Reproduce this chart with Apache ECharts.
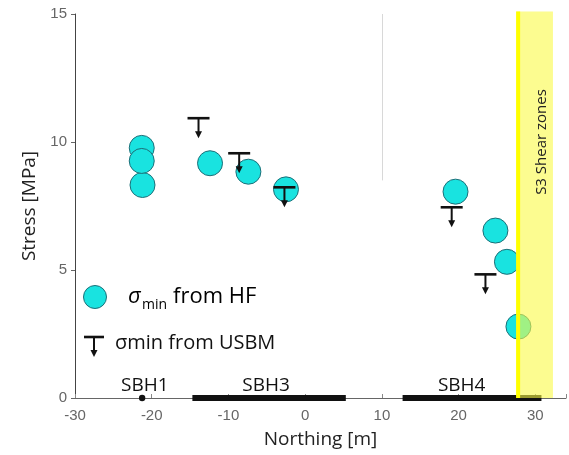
<!DOCTYPE html>
<html>
<head>
<meta charset="utf-8">
<script src="https://cdn.jsdelivr.net/npm/echarts@6/dist/echarts.min.js"></script>
<style>html,body{margin:0;padding:0;background:#fff}#c{width:569px;height:455px}</style>
</head>
<body>
<div id="c"></div>
<script>
// HF sigma_min measurements
const hfNorthing = [-21.3, -21.2, -21.3, -12.4, -7.4, -2.5, 19.6, 24.8, 26.3, 27.8];
const hfStress   = [9.77, 8.32, 9.26, 9.17, 8.84, 8.15, 8.06, 6.54, 5.32, 2.79];
// USBM sigma_min (upper bounds, arrow down)
const usbmNorthing = [-13.9, -8.6, -2.7, 19.1, 23.5];
const usbmStress   = [10.93, 9.56, 8.23, 7.45, 4.83];
// Borehole extents along the axis
const boreholes     = ['SBH1', 'SBH3', 'SBH4'];
const boreholeStart = [-21.5, -14.7, 12.7];
const boreholeEnd   = [-21.0, 5.3, 30.8];
const boreholeLabelX = [-20.9, -5.1, 20.4];
// Shear zone band
const shearZone = [27.5, 32.3];
const shearTop = 15.1;
const shearLabel = 'S3 Shear zones';
// Axes
const xTicks = [-30, -20, -10, 0, 10, 20, 30];
const yTicks = [0, 5, 10, 15];

const chart = echarts.init(document.getElementById('c'), null, {renderer: 'canvas'});
const FONT = '"Open Sans", "DejaVu Sans", sans-serif';

const option = {
  backgroundColor: '#fff',
  animation: false,
  grid: {left: 75, top: 14, width: 493, height: 384, containLabel: false},
  xAxis: {
    type: 'value', min: -30, max: 34, interval: 10,
    name: 'Northing [m]', nameLocation: 'middle', nameGap: 32,
    nameTextStyle: {fontFamily: FONT, fontSize: 19, color: '#222'},
    axisLine: {show: true, onZero: false, lineStyle: {color: '#666', width: 1}},
    axisTick: {show: true, inside: true, length: 4, lineStyle: {color: '#888'}},
    axisLabel: {fontFamily: 'Liberation Sans, Arial, sans-serif', fontSize: 15, color: '#666', margin: 10,
      formatter: v => xTicks.includes(v) ? String(v) : ''},
    splitLine: {show: false}
  },
  yAxis: {
    type: 'value', min: 0, max: 15, interval: 5,
    name: 'Stress [MPa]', nameLocation: 'middle', nameGap: 34,
    nameTextStyle: {fontFamily: FONT, fontSize: 19, color: '#222'},
    axisLine: {show: true, onZero: false, lineStyle: {color: '#444', width: 1}},
    axisTick: {show: true, length: 4, lineStyle: {color: '#666'}},
    axisLabel: {fontFamily: 'Liberation Sans, Arial, sans-serif', fontSize: 15, color: '#666', margin: 8,
      formatter: v => yTicks.includes(v) ? String(v) : ''},
    splitLine: {show: false}
  },
  series: [
    {
      name: 'boreholes', type: 'custom', z: 3, clip: false,
      data: boreholes.map((n, i) => [boreholeStart[i], boreholeEnd[i], boreholeLabelX[i]]),
      renderItem: function (params, api) {
        const i = params.dataIndex;
        const a = api.coord([api.value(0), 0]);
        const b = api.coord([api.value(1), 0]);
        const l = api.coord([api.value(2), 0]);
        const children = [];
        if (b[0] - a[0] < 6) {
          children.push({type: 'circle', shape: {cx: (a[0] + b[0]) / 2, cy: a[1], r: 3.2}, style: {fill: '#111'}});
        } else {
          children.push({type: 'line', shape: {x1: a[0], y1: a[1], x2: b[0], y2: b[1]}, style: {stroke: '#111', lineWidth: 6}});
        }
        children.push({type: 'text', x: l[0], y: l[1] - 12,
          style: {text: boreholes[i], fill: '#111', font: '19px ' + FONT, align: 'center', verticalAlign: 'middle'}});
        return {type: 'group', children: children};
      }
    },
    {
      name: 'divider', type: 'line', data: [], z: 1,
      markLine: {silent: true, symbol: 'none', label: {show: false},
        lineStyle: {color: '#d8d8d8', width: 1, type: 'solid'},
        data: [[{coord: [10, 15]}, {coord: [10, 8.5]}]]}
    },
    {
      name: 'σmin from HF', type: 'scatter', z: 4,
      data: hfNorthing.map((x, i) => [x, hfStress[i]]),
      symbol: 'circle', symbolSize: 25,
      itemStyle: {color: '#19e3e0', borderColor: '#1d6f78', borderWidth: 1, opacity: 1}
    },
    {
      name: 'σmin from USBM', type: 'custom', z: 5,
      data: usbmNorthing.map((x, i) => [x, usbmStress[i]]),
      renderItem: function (params, api) {
        const p = api.coord([api.value(0), api.value(1)]);
        return {type: 'group', children: [
          {type: 'line', shape: {x1: p[0] - 11, y1: p[1], x2: p[0] + 11, y2: p[1]}, style: {stroke: '#111', lineWidth: 2.6}},
          {type: 'line', shape: {x1: p[0], y1: p[1], x2: p[0], y2: p[1] + 15}, style: {stroke: '#111', lineWidth: 2}},
          {type: 'polygon', shape: {points: [[p[0] - 3.5, p[1] + 13], [p[0] + 3.5, p[1] + 13], [p[0], p[1] + 20]]}, style: {fill: '#111'}}
        ]};
      }
    },
    {
      name: 'shear', type: 'custom', z: 8, clip: false,
      data: [[shearZone[0], shearZone[1], shearTop]],
      renderItem: function (params, api) {
        const a = api.coord([api.value(0), 0]);
        const b = api.coord([api.value(1), api.value(2)]);
        return {type: 'group', children: [
          {type: 'rect', shape: {x: a[0], y: b[1], width: b[0] - a[0], height: a[1] - b[1]}, style: {fill: 'rgba(250,250,70,0.6)'}},
          {type: 'rect', shape: {x: a[0], y: b[1], width: 4, height: a[1] - b[1]}, style: {fill: 'rgba(255,255,0,1)'}}
        ]};
      }
    }
  ],
  graphic: []
};
chart.setOption(option);

const lx = chart.convertToPixel({gridIndex: 0}, [30.8, 10]);
chart.setOption({
  graphic: [
    {type: 'text', x: lx[0], y: lx[1], rotation: Math.PI / 2, z: 20,
      style: {text: shearLabel, font: '15px ' + FONT, fill: '#222', align: 'center', verticalAlign: 'middle'}},
    // legend
    {type: 'circle', shape: {cx: 95, cy: 297, r: 11.5}, z: 20, style: {fill: '#19e3e0', stroke: '#1d6f78', lineWidth: 1}},
    {type: 'text', x: 128, y: 297, z: 20, style: {text: 'σ', font: 'italic 22px ' + FONT, fill: '#000', verticalAlign: 'middle'}},
    {type: 'text', x: 142, y: 305, z: 20, style: {text: 'min', font: '14px ' + FONT, fill: '#000', verticalAlign: 'middle'}},
    {type: 'text', x: 173, y: 297, z: 20, style: {text: 'from HF', font: '22px ' + FONT, fill: '#000', verticalAlign: 'middle'}},
    {type: 'line', shape: {x1: 84, y1: 337, x2: 104, y2: 337}, z: 20, style: {stroke: '#111', lineWidth: 2.6}},
    {type: 'line', shape: {x1: 94, y1: 337, x2: 94, y2: 351}, z: 20, style: {stroke: '#111', lineWidth: 2}},
    {type: 'polygon', shape: {points: [[90.5, 350], [97.5, 350], [94, 357]]}, z: 20, style: {fill: '#111'}},
    {type: 'text', x: 115, y: 343, z: 20, style: {text: 'σmin from USBM', font: '20px ' + FONT, fill: '#111', verticalAlign: 'middle'}}
  ]
});
</script>
</body>
</html>
